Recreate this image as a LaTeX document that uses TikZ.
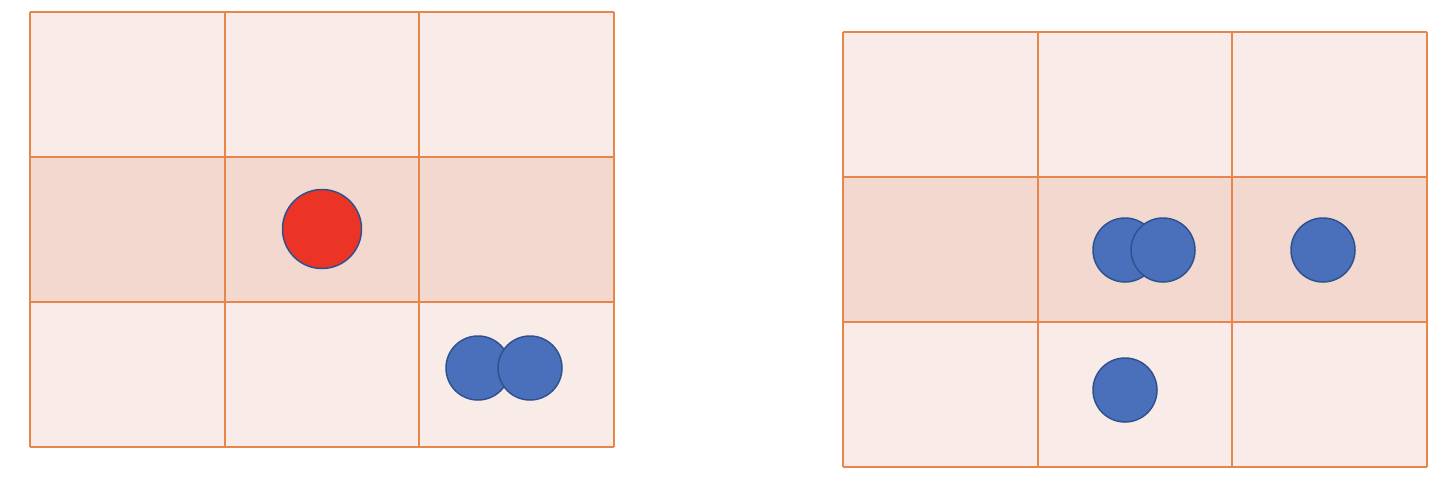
\documentclass[tikz,border=0pt]{standalone}
\usepackage{tikz}
\usetikzlibrary{calc}
\definecolor{gridline}{HTML}{E8854A}
\definecolor{celllight}{HTML}{F9EBE7}
\definecolor{cellmid}{HTML}{F2D8CF}
\definecolor{ballblue}{HTML}{4A70BC}
\definecolor{ballred}{HTML}{EB3425}
\definecolor{balledge}{HTML}{2F528F}
\tikzset{
	ball/.style={circle,draw=balledge,line width=1.5pt,inner sep=0pt,minimum size=64pt,fill=ballblue},
	redball/.style={ball,fill=ballred,minimum size=79pt}
}

\begin{document}
\begin{tikzpicture}[x=1pt,y=-1pt]
				\useasboundingbox (0,0) rectangle (1450,480);
				\def\cw{194.67};
				\def\ch{145};
				% left grid
				\def\lx{30};
				\def\ly{12};
				\fill[celllight] (\lx,\ly) rectangle ++({3*\cw},{3*\ch});
				\fill[cellmid] (\lx,{\ly+\ch}) rectangle ++({3*\cw},\ch);
				\foreach \i in {0,...,3} {
					\draw[gridline,line width=2.2pt] ({\lx+\i*\cw},\ly) -- ++(0,{3*\ch});
					\draw[gridline,line width=2.2pt] (\lx,{\ly+\i*\ch}) -- ++({3*\cw},0);
				}
				% right grid
				\def\rx{843};
				\def\ry{32};
				\fill[celllight] (\rx,\ry) rectangle ++({3*\cw},{3*\ch});
				\fill[cellmid] (\rx,{\ry+\ch}) rectangle ++({3*\cw},\ch);
				\foreach \i in {0,...,3} {
					\draw[gridline,line width=2.2pt] ({\rx+\i*\cw},\ry) -- ++(0,{3*\ch});
					\draw[gridline,line width=2.2pt] (\rx,{\ry+\i*\ch}) -- ++({3*\cw},0);
				}
				% balls
				\node[redball] (target) at (322,229) {};
				\node[ball] (l1) at (478,368) {};
				\node[ball] (l2) at (530,368) {};
				\node[ball] (r1) at (1125,250) {};
				\node[ball] (r2) at (1163,250) {};
				\node[ball] (r3) at (1323,250) {};
				\node[ball] (r4) at (1125,390) {};
			\end{tikzpicture}
\end{document}
